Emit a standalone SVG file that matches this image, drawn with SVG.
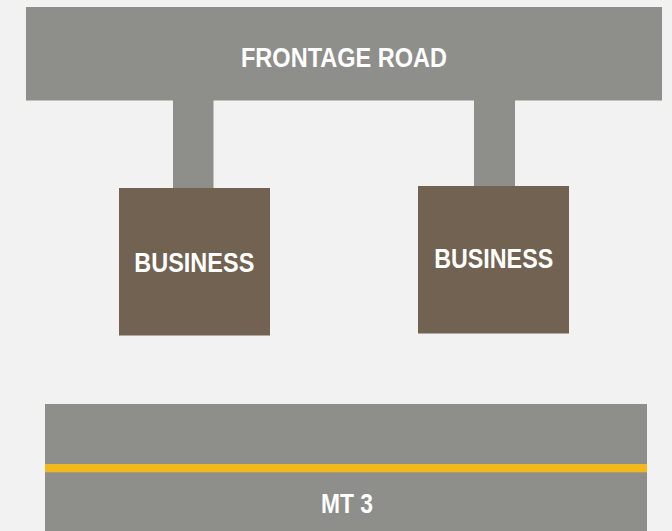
<svg xmlns="http://www.w3.org/2000/svg" width="672" height="531" viewBox="0 0 672 531">
  <style>
    .road { fill: #8E8E8B; }
    .biz { fill: #726252; }
    .lbl { fill: #FFFFFF; font-family: "Liberation Sans", Arial, sans-serif; font-weight: bold; font-size: 27px; text-anchor: middle; }
  </style>
  <rect x="0" y="0" width="672" height="531" fill="#F2F2F2"/>
  <g id="connectors">
    <rect class="road" x="173" y="99" width="40.5" height="90"/>
    <rect class="road" x="474" y="99" width="41" height="88"/>
  </g>
  <g id="frontage-road">
    <rect class="road" x="26" y="7" width="636" height="93.5"/>
    <text class="lbl" x="344" y="66.5" textLength="206" lengthAdjust="spacingAndGlyphs">FRONTAGE ROAD</text>
  </g>
  <g id="business-1">
    <rect class="biz" x="119" y="188" width="151" height="147.5"/>
    <text class="lbl" x="194.3" y="272.3" textLength="120" lengthAdjust="spacingAndGlyphs">BUSINESS</text>
  </g>
  <g id="business-2">
    <rect class="biz" x="418" y="186" width="151" height="147.5"/>
    <text class="lbl" x="493.7" y="268.3" textLength="119" lengthAdjust="spacingAndGlyphs">BUSINESS</text>
  </g>
  <g id="mt3">
    <rect class="road" x="45" y="404" width="602" height="127"/>
    <rect x="45" y="464" width="602" height="8.3" fill="#F2B91F"/>
    <text class="lbl" x="347" y="512.5" textLength="52" lengthAdjust="spacingAndGlyphs">MT 3</text>
  </g>
</svg>
